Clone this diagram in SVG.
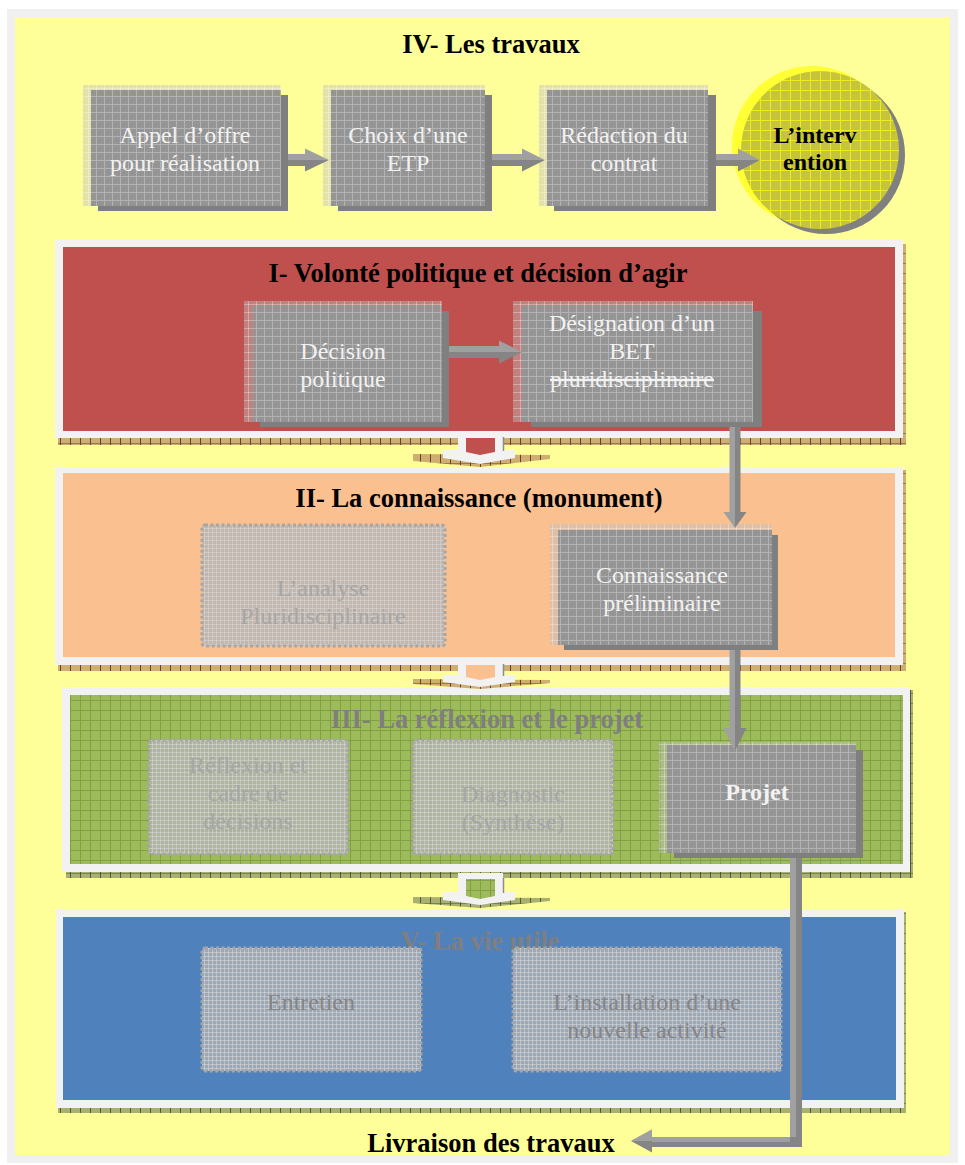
<svg xmlns="http://www.w3.org/2000/svg" width="965" height="1165" viewBox="0 0 965 1165">
  <defs>
    <!-- grey node texture -->
    <pattern id="pGrey" width="8" height="8" patternUnits="userSpaceOnUse">
      <rect width="8" height="8" fill="#959595"/>
      <path d="M0 0.5H8M0.5 0V8" stroke="#b2b2b2" stroke-width="1"/>
      <rect x="4" y="4" width="1" height="1" fill="#8a8a8a"/>
    </pattern>
    <!-- translucent backing plate behind nodes -->
    <pattern id="pBack" width="8" height="8" patternUnits="userSpaceOnUse">
      <rect width="8" height="8" fill="#c0c0c0" fill-opacity="0.45"/>
      <path d="M0 0.5H8M0.5 0V8" stroke="#ffffff" stroke-opacity="0.3" stroke-width="1"/>
    </pattern>
    <!-- dotted (inactive) node texture -->
    <pattern id="pDot" width="4" height="4" patternUnits="userSpaceOnUse">
      <rect width="4" height="4" fill="#b4b4b4" fill-opacity="0.78"/>
      <path d="M0 0.5H4M0.5 0V4" stroke="#d6d6d6" stroke-opacity="0.6" stroke-width="1"/>
    </pattern>
    <!-- olive texture of the circle -->
    <pattern id="pOlive" width="10" height="10" patternUnits="userSpaceOnUse">
      <rect width="10" height="10" fill="#c6c43a"/>
      <path d="M0 0.5H10M0.5 0V10" stroke="#ecec1e" stroke-width="1"/>
    </pattern>
    <!-- green section texture -->
    <pattern id="pGreen" width="10" height="10" patternUnits="userSpaceOnUse">
      <rect width="10" height="10" fill="#9dbb5b"/>
      <path d="M0 0.5H10M0.5 0V10" stroke="#80a044" stroke-width="1"/>
    </pattern>
    <!-- tan relief strip -->
    <pattern id="pTan" width="10" height="10" patternUnits="userSpaceOnUse">
      <rect width="10" height="10" fill="#cfae72"/>
      <path d="M0 3.5H10" stroke="#8c6a4e" stroke-width="0.8"/>
      <path d="M0.5 0V10" stroke="#6e3c30" stroke-width="1"/>
    </pattern>
    <!-- olive relief strip -->
    <pattern id="pOliveStrip" width="10" height="10" patternUnits="userSpaceOnUse">
      <rect width="10" height="10" fill="#a8b072"/>
      <path d="M0 3.5H10" stroke="#6c7450" stroke-width="0.8"/>
      <path d="M0.5 0V10" stroke="#4e5a3a" stroke-width="1"/>
    </pattern>
    <style>
      .t { font-family: 'Liberation Serif', 'Times New Roman', serif; text-anchor: middle; }
      .title { font-size: 26.5px; font-weight: bold; fill: #000; }
      .title.dim { fill: #7f7f7f; }
      .lbl { font-size: 24px; fill: #f2f2f2; }
      .lbl.b { font-weight: bold; }
      .faint { font-size: 24px; fill: #a6a6a6; }
      .faint.dk { fill: #858585; }
      .back { fill: url(#pBack); }
      .shadow { fill: #7f7f7f; }
      .main { fill: url(#pGrey); }
      .dot { fill: url(#pDot); stroke: #a6a6a6; stroke-width: 3; stroke-dasharray: 3 2.5; }
      .frame { fill: #f2f2f2; }
      .tan { fill: url(#pTan); }
      .ostrip { fill: url(#pOliveStrip); }
      .al { fill: #a0a0a0; }
      .ad { fill: #858585; }
      .strike { text-decoration: line-through; }
    </style>
  </defs>

  <!-- page -->
  <rect x="7" y="9" width="951" height="1154" fill="#f0f0f0"/>
  <rect x="15" y="17" width="935" height="1138" fill="#ffff99"/>

  <!-- section IV : works -->
  <g id="section-IV">
    <text class="t title" x="491" y="53">IV- Les travaux</text>
  </g>

  <g id="node-appel">
    <rect class="back" x="83" y="85" width="198" height="121"/>
    <rect class="shadow" x="98" y="95" width="190" height="116"/>
    <rect class="main" x="91" y="90" width="190" height="116"/>
    <text class="t lbl" x="185" y="143">Appel d’offre</text>
    <text class="t lbl" x="185" y="171">pour réalisation</text>
  </g>

  <g id="node-choix">
    <rect class="back" x="323" y="85" width="162" height="121"/>
    <rect class="shadow" x="338" y="95" width="154" height="116"/>
    <rect class="main" x="331" y="90" width="154" height="116"/>
    <text class="t lbl" x="408" y="143">Choix d’une</text>
    <text class="t lbl" x="408" y="171">ETP</text>
  </g>

  <g id="node-redaction">
    <rect class="back" x="539" y="85" width="169" height="121"/>
    <rect class="shadow" x="554" y="95" width="162" height="116"/>
    <rect class="main" x="547" y="90" width="161" height="116"/>
    <text class="t lbl" x="624" y="143">Rédaction du</text>
    <text class="t lbl" x="624" y="171">contrat</text>
  </g>

  <g id="node-intervention">
    <circle cx="812" cy="146" r="80" fill="#ffff33"/>
    <circle cx="826" cy="155" r="79" fill="#808080"/>
    <circle cx="820" cy="150" r="79" fill="url(#pOlive)"/>
    <text class="t" x="815" y="143" font-size="24" font-weight="bold" fill="#000">L’interv</text>
    <text class="t" x="815" y="170" font-size="24" font-weight="bold" fill="#000">ention</text>
  </g>

  <!-- section I -->
  <g id="section-I">
    <rect class="tan" x="58" y="438" width="848" height="7"/>
    <rect class="tan" x="903" y="244" width="3" height="201"/>
    <rect class="frame" x="55" y="240" width="848" height="198"/>
    <rect x="63" y="247" width="832" height="184" fill="#c0504d"/>
    <text class="t title" x="478" y="282">I- Volonté politique et décision d’agir</text>
  </g>

  <g id="node-decision">
    <rect class="back" x="244" y="301" width="198" height="121"/>
    <rect class="shadow" x="260" y="311" width="189" height="116"/>
    <rect class="main" x="253" y="306" width="189" height="116"/>
    <text class="t lbl" x="343" y="359">Décision</text>
    <text class="t lbl" x="343" y="387">politique</text>
  </g>

  <g id="node-designation">
    <rect class="back" x="513" y="301" width="240" height="121"/>
    <rect class="shadow" x="531" y="311" width="231" height="116"/>
    <rect class="main" x="522" y="306" width="231" height="116"/>
    <text class="t lbl" x="632" y="331">Désignation d’un</text>
    <text class="t lbl" x="632" y="359">BET</text>
    <text class="t lbl strike" x="632" y="387">pluridisciplinaire</text>
  </g>

  <!-- section II -->
  <g id="section-II">
    <rect class="tan" x="58" y="665" width="848" height="6"/>
    <rect class="tan" x="903" y="470" width="3" height="201"/>
    <rect class="frame" x="55" y="467" width="848" height="198"/>
    <rect x="63" y="473" width="832" height="184" fill="#fac090"/>
    <text class="t title" x="479" y="507">II- La connaissance (monument)</text>
  </g>

  <g id="node-analyse">
    <rect class="dot" x="202" y="525" width="243" height="121" rx="3"/>
    <text class="t faint" x="323" y="596">L’analyse</text>
    <text class="t faint" x="323" y="624">Pluridisciplinaire</text>
  </g>

  <g id="node-connaissance">
    <rect class="back" x="550" y="524" width="222" height="121"/>
    <rect class="shadow" x="564" y="535" width="214" height="115"/>
    <rect class="main" x="558" y="530" width="214" height="115"/>
    <text class="t lbl" x="662" y="583">Connaissance</text>
    <text class="t lbl" x="662" y="611">préliminaire</text>
  </g>

  <!-- section III -->
  <g id="section-III">
    <rect class="ostrip" x="66" y="872" width="847" height="6"/>
    <rect class="ostrip" x="910" y="690" width="3" height="188"/>
    <rect class="frame" x="62" y="687" width="848" height="185"/>
    <rect x="70" y="695" width="833" height="169" fill="url(#pGreen)"/>
    <text class="t title dim" x="487" y="728">III- La réflexion et le projet</text>
  </g>

  <g id="node-reflexion">
    <rect class="dot" x="149" y="740" width="199" height="114" rx="3"/>
    <text class="t faint" x="248" y="773">Réflexion et</text>
    <text class="t faint" x="248" y="801">cadre de</text>
    <text class="t faint" x="248" y="829">décisions</text>
  </g>

  <g id="node-diagnostic">
    <rect class="dot" x="413" y="740" width="200" height="114" rx="3"/>
    <text class="t faint" x="513" y="802">Diagnostic</text>
    <text class="t faint" x="513" y="830">(Synthèse)</text>
  </g>

  <g id="node-projet">
    <rect class="back" x="659" y="742" width="197" height="111"/>
    <rect class="shadow" x="674" y="750" width="189" height="108"/>
    <rect class="main" x="667" y="745" width="189" height="108"/>
    <text class="t lbl b" x="757" y="800">Projet</text>
  </g>

  <!-- section V -->
  <g id="section-V">
    <rect class="ostrip" x="58" y="1108" width="848" height="5"/>
    <rect class="ostrip" x="904" y="912" width="2" height="201"/>
    <rect class="frame" x="56" y="909" width="848" height="199"/>
    <rect x="63" y="917" width="833" height="183" fill="#4f81bd"/>
    <text class="t title dim" x="480" y="950">V- La vie utile</text>
  </g>

  <g id="node-entretien">
    <rect class="dot" x="202" y="948" width="219" height="123" rx="3"/>
    <text class="t faint dk" x="311" y="1010">Entretien</text>
  </g>

  <g id="node-installation">
    <rect class="dot" x="513" y="948" width="268" height="123" rx="3"/>
    <text class="t faint dk" x="647" y="1010">L’installation d’une</text>
    <text class="t faint dk" x="647" y="1038">nouvelle activité</text>
  </g>

  <!-- phase transitions between sections -->
  <g id="phase-arrows">
    <!-- I to II -->
    <polygon class="tan" points="413,454 550,455 550,459 480,467 413,461"/>
    <polygon class="frame" points="458,431 503,431 503,450 515,450 515,458 480,464 443,458 443,450 458,450"/>
    <polygon points="466,438 495,438 495,452 480,455 466,452" fill="#c0504d"/>
    <line x1="503.5" y1="437" x2="503.5" y2="451" stroke="#8c8c8c" stroke-width="1.5"/>
    <!-- II to III -->
    <polygon class="tan" points="413,679 550,680 550,683 480,689 413,684"/>
    <polygon class="frame" points="458,658 503,658 503,675 515,675 515,682 480,687 443,682 443,675 458,675"/>
    <polygon points="466,665 495,665 495,677 480,680 466,677" fill="#fac090"/>
    <line x1="503.5" y1="664" x2="503.5" y2="676" stroke="#8c8c8c" stroke-width="1.5"/>
    <!-- III to V -->
    <polygon class="ostrip" points="413,897 550,898 550,901 480,908 413,903"/>
    <polygon class="frame" points="458,873 503,873 503,892 515,892 515,900 480,905 443,900 443,892 458,892"/>
    <polygon points="466,879 495,879 495,896 480,899 466,896" fill="url(#pGreen)"/>
    <line x1="503.5" y1="878" x2="503.5" y2="893" stroke="#8c8c8c" stroke-width="1.5"/>
  </g>

  <!-- connectors -->
  <g id="connectors">
    <!-- Appel -> Choix -->
    <path class="al" d="M288 154H305V148.5L329 160H288Z"/>
    <path class="ad" d="M288 160H329L305 171.5V166H288Z"/>
    <!-- Choix -> Rédaction -->
    <path class="al" d="M492 154H522V148.5L545 160H492Z"/>
    <path class="ad" d="M492 160H545L522 171.5V166H492Z"/>
    <!-- Rédaction -> Intervention -->
    <path class="al" d="M716 154H738V148.5L760 160H716Z"/>
    <path class="ad" d="M716 160H760L738 171.5V166H716Z"/>
    <!-- Décision -> Désignation -->
    <path class="al" d="M449 346H499V340.5L522 352H449Z"/>
    <path class="ad" d="M449 352H522L499 363.5V358H449Z"/>
    <!-- Désignation -> Connaissance -->
    <path class="al" d="M729.5 427H735V528L723.5 512H729.5Z"/>
    <path class="ad" d="M735 427H740.5V512H746.5L735 528Z"/>
    <!-- Connaissance -> Projet -->
    <path class="al" d="M729.5 650H735V751L723.5 728H729.5Z"/>
    <path class="ad" d="M735 650H740.5V728H746.5L735 751Z"/>
    <!-- Projet -> Livraison -->
    <path class="ad" d="M790 858H802V1147H652V1152.5L631 1141L652 1129.5V1137H790Z"/>
    <path class="al" d="M790 858H796V1137H790Z"/>
    <path class="al" d="M652 1137H790V1142H652Z"/>
    <path class="al" d="M652 1129.5V1141H631Z"/>
  </g>

  <g id="node-livraison">
    <text class="t title" x="491" y="1152">Livraison des travaux</text>
  </g>
</svg>
